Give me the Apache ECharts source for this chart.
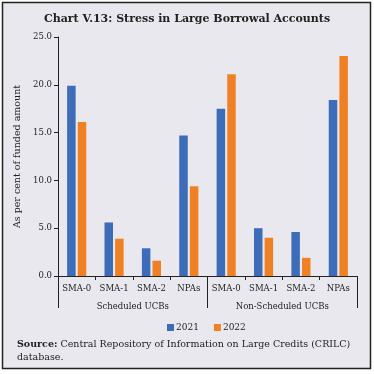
<!DOCTYPE html>
<html>
<head>
<meta charset="utf-8">
<script src="https://cdn.jsdelivr.net/npm/echarts@6/dist/echarts.min.js"></script>
<style>
html,body{margin:0;padding:0;background:#fff;}
#c{width:374px;height:374px;}
</style>
</head>
<body>
<div id="c"></div>
<script>
var categories = ['SMA-0','SMA-1','SMA-2','NPAs','SMA-0','SMA-1','SMA-2','NPAs'];
var groups = ['Scheduled UCBs','Non-Scheduled UCBs'];
var series2021 = [19.9, 5.6, 2.9, 14.7, 17.5, 5.0, 4.6, 18.4];
var series2022 = [16.1, 3.9, 1.6, 9.4, 21.1, 4.0, 1.9, 23.0];
var yTicks = [0, 5, 10, 15, 20, 25];

var F = 'DejaVu Serif';
var chart = echarts.init(document.getElementById('c'));
chart.setOption({
  animation: false,
  backgroundColor: '#fff',
  graphic: [{
    type: 'rect', z: -10,
    shape: {x: 2.5, y: 2.5, width: 368, height: 366},
    style: {fill: '#e9e8ee', stroke: '#222', lineWidth: 1.5}
  }],
  title: [{
    text: 'Chart V.13: Stress in Large Borrowal Accounts',
    left: 'center', top: 9,
    textStyle: {fontFamily: F, fontSize: 11, fontWeight: 'bold', color: '#222'}
  }, {
    text: '{b|Source:} Central Repository of Information on Large Credits (CRILC)\ndatabase.',
    left: 12, top: 333,
    textStyle: {
      fontFamily: F, fontSize: 9.5, fontWeight: 'normal', color: '#222', lineHeight: 13,
      rich: {b: {fontFamily: F, fontSize: 9.5, fontWeight: 'bold', color: '#222', lineHeight: 13}}
    }
  }],
  legend: {
    data: ['2021', '2022'],
    top: 318, left: 162,
    itemWidth: 7, itemHeight: 7, itemGap: 15,
    icon: 'rect',
    textStyle: {fontFamily: F, fontSize: 9, color: '#222', padding: [0,0,0,-3]}
  },
  grid: {left: 58, right: 17, top: 37, bottom: 98},
  xAxis: [{
    type: 'category', data: categories, position: 'bottom',
    axisLine: {lineStyle: {color: '#222', width: 1}},
    axisTick: {show: true, length: 4, lineStyle: {color: '#222'}},
    axisLabel: {fontFamily: F, fontSize: 8.5, color: '#222', margin: 8, interval: 0}
  }, {
    type: 'category', data: groups, position: 'bottom',
    axisLine: {show: true, lineStyle: {color: 'rgba(0,0,0,0)'}},
    axisTick: {show: true, length: 32, interval: 0, lineStyle: {color: '#222'}},
    axisLabel: {fontFamily: F, fontSize: 8.5, color: '#222', margin: 26, interval: 0}
  }],
  yAxis: {
    type: 'value', min: 0, max: 25, interval: 5,
    name: 'As per cent of funded amount', nameLocation: 'middle', nameGap: 34,
    nameTextStyle: {fontFamily: F, fontSize: 9.5, color: '#222'},
    axisLine: {show: true, lineStyle: {color: '#222'}},
    axisTick: {show: true, length: 4, lineStyle: {color: '#222'}},
    splitLine: {show: false},
    axisLabel: {fontFamily: F, fontSize: 8.5, color: '#222', margin: 6,
      formatter: function (v) { return yTicks.indexOf(v) >= 0 ? v.toFixed(1) : ''; }}
  },
  series: [{
    name: '2021', type: 'bar', data: series2021, xAxisIndex: 0,
    barWidth: 8.5, barGap: '25%',
    itemStyle: {color: '#3d6cb9'}
  }, {
    name: '2022', type: 'bar', data: series2022, xAxisIndex: 0,
    barWidth: 8.5, barGap: '25%',
    itemStyle: {color: '#f08024'}
  }]
});
</script>
</body>
</html>
